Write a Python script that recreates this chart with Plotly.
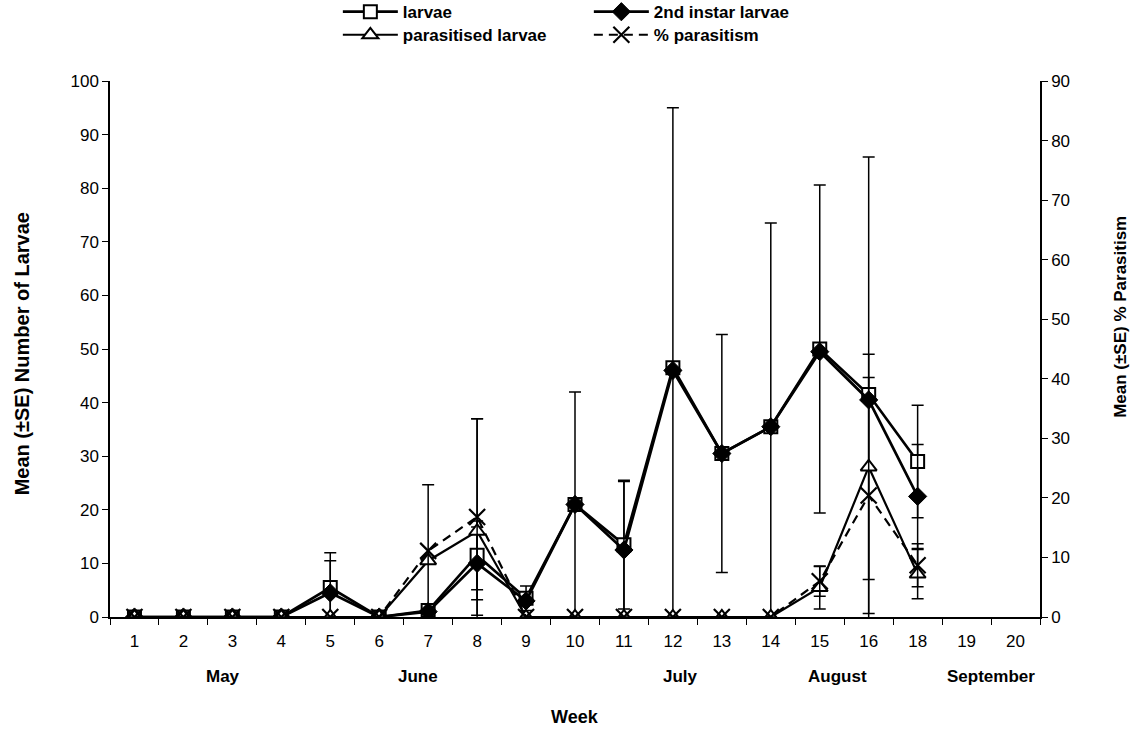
import plotly.graph_objects as go

# ---------------- data ----------------
weeks = ["1", "2", "3", "4", "5", "6", "7", "8", "9", "10", "11", "12", "13",
         "14", "15", "16", "18", "19", "20"]

larvae = [0, 0, 0, 0, 5.5, 0, 1.2, 11.5, 3.5, 21, 13.5, 46.5, 30.5, 35.5, 50,
          41.5, 29, None, None]
larvae_se = [0, 0, 0, 0, 6.5, 0, 0, 6.4, 2.3, 21, 12, 48.5, 22.2, 38, 30.6,
             44.3, 10.5, None, None]

instar2 = [0, 0, 0, 0, 4.5, 0, 1.0, 10, 3, 21, 12.5, 46, 30.5, 35.5, 49.5,
           40.5, 22.5, None, None]
instar2_se = [0, 0, 0, 0, 6, 0, 0, 6.8, 0, 0, 12.8, 0, 0, 0, 0, 0, 9.7,
              None, None]

parasitised = [0, 0, 0, 0, 0, 0, 10.5, 16, 0, 0, 0, 0, 0, 0, 5.5, 28, 8,
               None, None]
parasitised_se = [0, 0, 0, 0, 0, 0, 0, 21, 0, 0, 0, 0, 0, 0, 4, 21, 4.6,
                  None, None]

# right axis (% parasitism)
parasitism = [0, 0, 0, 0, 0, 0, 11.1, 16.8, 0, 0, 0, 0, 0, 0, 6.0, 20.4, 8.7,
              None, None]
parasitism_se = [0, 0, 0, 0, 0, 0, 11.1, 16.5, 0, 0, 0, 0, 0, 0, 2.5, 19.8,
                 3.6, None, None]

months = ["May", "June", "July", "August", "September"]
month_pos = [1.8, 5.8, 11.15, 14.36, 17.5]

FONT = "Liberation Sans, Arial, Helvetica, sans-serif"
BLACK = "#000000"

def err(arr):
    return dict(type="data", array=[0 if v is None else v for v in arr],
                color=BLACK, thickness=1.5, width=6, visible=True)

fig = go.Figure()

fig.add_trace(go.Scatter(
    x=weeks, y=larvae, name="larvae", mode="lines+markers",
    line=dict(color=BLACK, width=2.7),
    marker=dict(symbol="square", size=13, color="white",
                line=dict(color=BLACK, width=2)),
    error_y=err(larvae_se), legend="legend",
))
fig.add_trace(go.Scatter(
    x=weeks, y=instar2, name="2nd instar larvae", mode="lines+markers",
    line=dict(color=BLACK, width=2.7),
    marker=dict(symbol="diamond", size=14, color=BLACK,
                line=dict(color=BLACK, width=1)),
    error_y=err(instar2_se), legend="legend",
))
fig.add_trace(go.Scatter(
    x=weeks, y=parasitised, name="parasitised larvae", mode="lines+markers",
    line=dict(color=BLACK, width=2.2),
    marker=dict(symbol="triangle-up", size=14, color="white",
                line=dict(color=BLACK, width=2)),
    error_y=err(parasitised_se), legend="legend2",
))
fig.add_trace(go.Scatter(
    x=weeks, y=parasitism, name="% parasitism", mode="lines+markers",
    yaxis="y2",
    line=dict(color=BLACK, width=2.2, dash="9px,6px"),
    marker=dict(symbol="x-thin", size=16, color=BLACK,
                line=dict(color=BLACK, width=2.2)),
    error_y=err(parasitism_se), legend="legend2",
))

annotations = []
for m, p in zip(months, month_pos):
    annotations.append(dict(x=p, y=0, xref="x", yref="paper", text=f"<b>{m}</b>",
                            showarrow=False, yanchor="middle", yshift=-59,
                            font=dict(size=17, family=FONT, color=BLACK)))
annotations.append(dict(x=0.5, y=0, xref="paper", yref="paper", text="<b>Week</b>",
                        showarrow=False, yanchor="middle", yshift=-100,
                        font=dict(size=18, family=FONT, color=BLACK)))
annotations.append(dict(x=0, y=0.49, xref="paper", yref="paper",
                        xanchor="center", yanchor="middle", xshift=-88,
                        text="<b>Mean (±SE) Number of Larvae</b>", textangle=-90,
                        showarrow=False, font=dict(size=20, family=FONT, color=BLACK)))
annotations.append(dict(x=1.0, y=0.56, xref="paper", yref="paper",
                        xanchor="center", yanchor="middle", xshift=81,
                        text="<b>Mean (±SE) % Parasitism</b>", textangle=-90,
                        showarrow=False, font=dict(size=17, family=FONT, color=BLACK)))

axis_common = dict(showgrid=False, zeroline=False, showline=True, linecolor=BLACK,
                   linewidth=1.5, ticks="outside", tickcolor=BLACK, tickwidth=1.2,
                   tickfont=dict(size=17, family=FONT, color=BLACK))

legend_common = dict(orientation="h", xanchor="left", yanchor="top",
                     font=dict(size=17, family=FONT, color=BLACK, weight="bold"),
                     itemwidth=55, entrywidth=181, entrywidthmode="pixels",
                     bgcolor="rgba(0,0,0,0)", borderwidth=0, tracegroupgap=0,
                     itemclick=False)

fig.update_layout(
    width=1143, height=730,
    margin=dict(l=110, r=103, t=81, b=113, pad=0, autoexpand=False),
    paper_bgcolor="white", plot_bgcolor="white",
    font=dict(family=FONT, color=BLACK),
    showlegend=True,
    legend=dict(x=0.245, y=1.162, **legend_common),
    legend2=dict(x=0.245, y=1.119, **legend_common),
    xaxis=dict(type="category", categoryorder="array", categoryarray=weeks,
               range=[-0.5, 18.5], tickson="boundaries", ticklen=6,
               ticklabelstandoff=8, **axis_common),
    yaxis=dict(range=[0, 100], dtick=10, tick0=0, ticklen=6, **axis_common),
    yaxis2=dict(range=[0, 90], dtick=10, tick0=0, ticklen=6, overlaying="y",
                side="right", anchor="x", **axis_common),
    xaxis2=dict(overlaying="x", anchor="y", range=[-0.5, 18.5], tick0=-0.5, dtick=1,
                ticks="inside", ticklen=6, tickcolor=BLACK, tickwidth=1.2,
                showticklabels=False, showgrid=False, zeroline=False, showline=False),
    yaxis3=dict(overlaying="y", anchor="x", side="left", range=[0, 100], dtick=10,
                ticks="inside", ticklen=6, tickcolor=BLACK, tickwidth=1.2,
                showticklabels=False, showgrid=False, zeroline=False, showline=False),
    yaxis4=dict(overlaying="y", anchor="x", side="right", range=[0, 90], dtick=10,
                ticks="inside", ticklen=6, tickcolor=BLACK, tickwidth=1.2,
                showticklabels=False, showgrid=False, zeroline=False, showline=False),
    annotations=annotations,
)

fig.write_html("out.html")
